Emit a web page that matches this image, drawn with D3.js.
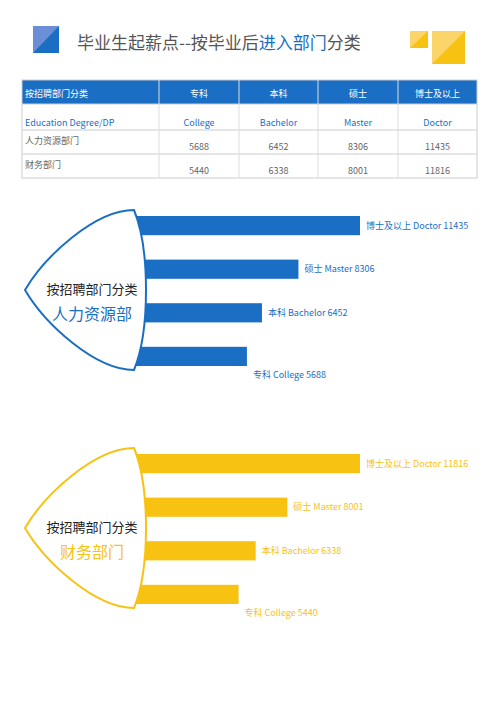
<!DOCTYPE html>
<html><head><meta charset="utf-8">
<script src="https://cdn.jsdelivr.net/npm/d3@7"></script>
<style>body{margin:0;background:#fff}svg{font-family:"Noto Sans CJK SC","Noto Sans",sans-serif}</style>
</head><body><svg id="c" width="500" height="707"></svg>
<script>
const levels = ['专科', '本科', '硕士', '博士及以上'];
const levelsEn = ['College', 'Bachelor', 'Master', 'Doctor'];
const depts = ['人力资源部门', '财务部门'];
const hrValues = [5688, 6452, 8306, 11435];
const finValues = [5440, 6338, 8001, 11816];

const blue = '#1a6fc4', yellow = '#f8c213';
const svg = d3.select('#c');

// title + decorations
svg.append('rect').attr('x', 33).attr('y', 26).attr('width', 26).attr('height', 27).attr('fill', blue);
svg.append('path').attr('d', 'M33,26 L59,26 L33,53 Z').attr('fill', '#6a8fd6');
svg.append('rect').attr('x', 410).attr('y', 31).attr('width', 18).attr('height', 17).attr('fill', yellow);
svg.append('path').attr('d', 'M410,31 L428,31 L410,48 Z').attr('fill', '#fbd56a');
svg.append('rect').attr('x', 432).attr('y', 31).attr('width', 33).attr('height', 33).attr('fill', yellow);
svg.append('path').attr('d', 'M432,31 L465,31 L432,64 Z').attr('fill', '#fbd56a');
let title = svg.append('text').attr('x', 77).attr('y', 49).style('font-size', '17px').attr('fill', '#555');
title.append('tspan').text('毕业生起薪点--按毕业后');
title.append('tspan').attr('fill', blue).text('进入部门');
title.append('tspan').text('分类');

// table
const colX = [22, 159, 239, 318, 398, 477];
const rowY = [80, 104, 130, 154, 178];
const tbl = svg.append('g');
tbl.append('rect').attr('x', 22).attr('y', 80).attr('width', 455).attr('height', 24).attr('fill', blue);
tbl.append('rect').attr('x', 22).attr('y', 80).attr('width', 455).attr('height', 98).attr('fill', 'none').attr('stroke', '#ccc');
rowY.slice(1, 4).forEach(y => tbl.append('line').attr('x1', 22).attr('x2', 477).attr('y1', y).attr('y2', y).attr('stroke', '#ccc'));
colX.slice(1, 5).forEach(x => tbl.append('line').attr('x1', x).attr('x2', x).attr('y1', 80).attr('y2', 178).attr('stroke', '#ddd'));
const rows = [
  {cells: ['按招聘部门分类', ...levels], fill: '#fff', dy: 17},
  {cells: ['Education  Degree/DP', ...levelsEn], fill: blue, dy: 22},
  {cells: [depts[0], ...hrValues], fill: '#666', dy: 20},
  {cells: [depts[1], ...finValues], fill: '#666', dy: 20}
];
rows.forEach((r, ri) => {
  r.cells.forEach((c, ci) => {
    const first = ci === 0;
    tbl.append('text')
      .attr('x', first ? 25 : (colX[ci] + colX[ci + 1]) / 2)
      .attr('y', rowY[ri] + (first && ri > 1 ? 14 : r.dy))
      .attr('text-anchor', first ? 'start' : 'middle')
      .style('font-size', '9px').attr('fill', r.fill).text(c);
  });
});

function group(top, values, color, name) {
  const g = svg.append('g').attr('transform', 'translate(0,' + top + ')');
  const x = d3.scaleLinear().domain([0, d3.max(values)]).range([135, 360]);
  const y = d3.scaleBand().domain(d3.range(4).reverse()).range([0, 150]).paddingInner(0.56);
  g.selectAll('rect.bar').data(values).join('rect')
    .attr('class', 'bar').attr('x', 120).attr('y', (d, i) => y(i))
    .attr('width', d => x(d) - 120).attr('height', y.bandwidth()).attr('fill', color);
  g.selectAll('text.lbl').data(values).join('text')
    .attr('class', 'lbl')
    .attr('x', (d, i) => x(d) + 6)
    .attr('y', (d, i) => i === 0 ? y(i) + y.bandwidth() + 12 : y(i) + y.bandwidth() / 2 + 3)
    .style('font-size', '9px').attr('fill', color)
    .text((d, i) => levels[i] + ' ' + levelsEn[i] + ' ' + d);
  const cy = 74;
  g.append('path')
    .attr('d', `M134,-6 C95,-6 45,40 25,${cy} C45,108 95,154 134,154 C150,115 150,33 134,-6 Z`)
    .attr('fill', '#fff').attr('stroke', color).attr('stroke-width', 2);
  g.append('text').attr('x', 92).attr('y', cy + 4).attr('text-anchor', 'middle')
    .style('font-size', '13px').attr('fill', '#222').text('按招聘部门分类');
  g.append('text').attr('x', 92).attr('y', cy + 30).attr('text-anchor', 'middle')
    .style('font-size', '16px').attr('fill', color).text(name);
}
group(216, hrValues, blue, '人力资源部');
group(454, finValues, yellow, '财务部门');
</script></body></html>
